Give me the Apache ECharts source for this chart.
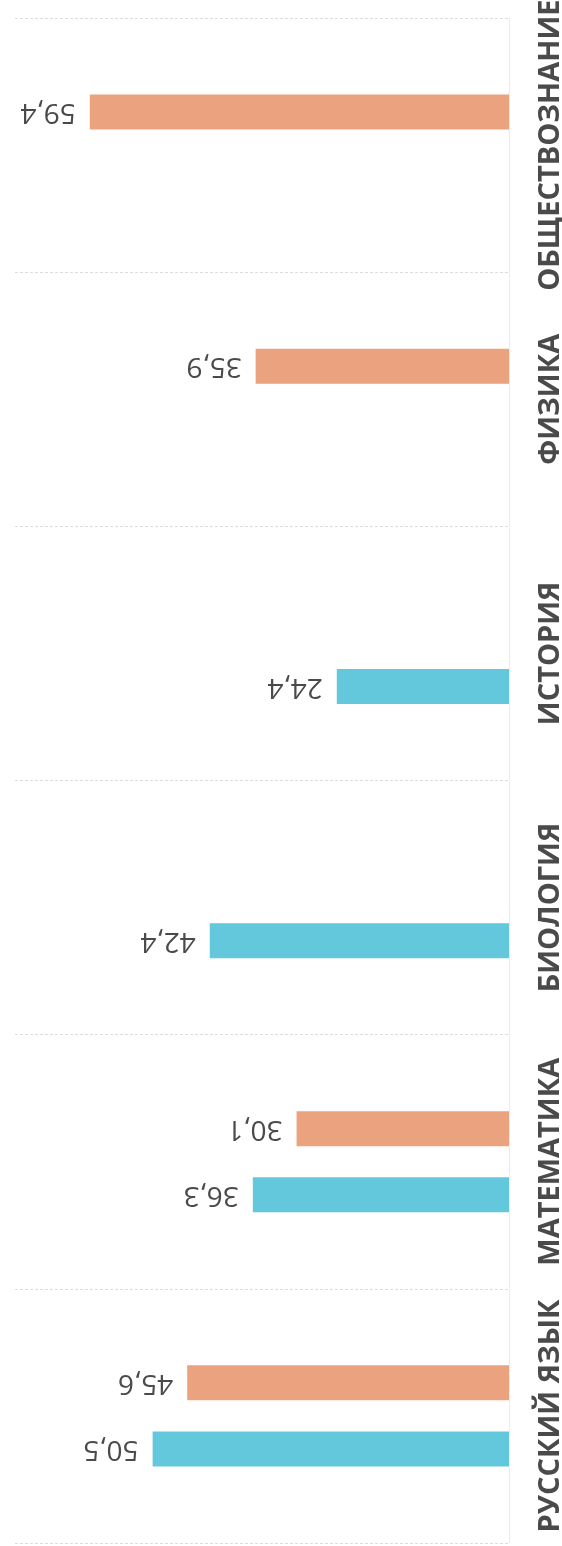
<!DOCTYPE html>
<html>
<head>
<meta charset="utf-8">
<style>
html,body{margin:0;padding:0;background:#fff;}
#chart{width:562px;height:1546px;}
</style>
<script src="https://cdn.jsdelivr.net/npm/echarts@6/dist/echarts.min.js"></script>
</head>
<body>
<div id="chart"></div>
<script>
var categories = ['РУССКИЙ ЯЗЫК', 'МАТЕМАТИКА', 'БИОЛОГИЯ', 'ИСТОРИЯ', 'ФИЗИКА', 'ОБЩЕСТВОЗНАНИЕ'];
var blueValues = [50.5, 36.3, 42.4, 24.4, null, null];
var orangeValues = [45.6, 30.1, null, null, 35.9, 59.4];

var chart = echarts.init(document.getElementById('chart'));
var valueLabel = {
  show: true,
  position: 'left',
  distance: 14,
  rotate: 180,
  align: 'left',
  verticalAlign: 'middle',
  fontFamily: 'Open Sans',
  fontSize: 28,
  color: '#4a4a4a',
  formatter: function (p) { return p.value == null ? '' : p.value.toFixed(1).replace('.', ','); }
};
chart.setOption({
  backgroundColor: '#ffffff',
  animation: false,
  grid: { left: 15, right: 53, top: 18, bottom: 3, containLabel: false, outerBoundsMode: 'none' },
  xAxis: {
    type: 'value', inverse: true, min: 0, max: 70,
    axisLine: { show: false }, axisTick: { show: false },
    axisLabel: { show: false }, splitLine: { show: false }
  },
  yAxis: {
    type: 'category', position: 'right', data: categories,
    axisLine: { show: true, lineStyle: { color: '#ececec', width: 1 } },
    axisTick: { show: false },
    splitLine: { show: true, interval: 0, lineStyle: { color: '#dcdcdc', type: [3, 2], width: 1 } },
    axisLabel: {
      interval: 0, hideOverlap: false,
      rotate: 90, margin: 27,
      fontFamily: 'Open Sans', fontWeight: 'bold', fontSize: 29, color: '#4a4a4a'
    }
  },
  series: [
    { name: 'orange', type: 'bar', data: orangeValues, barWidth: 35, barGap: '89%',
      itemStyle: { color: '#eba27e' }, label: valueLabel },
    { name: 'blue', type: 'bar', data: blueValues, barWidth: 35, barGap: '89%',
      itemStyle: { color: '#63c8db' }, label: valueLabel }
  ]
});
</script>
</body>
</html>
